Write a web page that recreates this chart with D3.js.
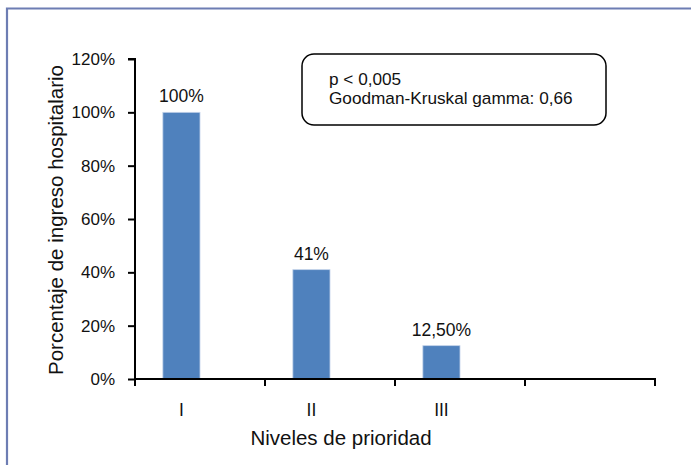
<!DOCTYPE html>
<html>
<head>
<meta charset="utf-8">
<script src="https://cdn.jsdelivr.net/npm/d3@7"></script>
<style>
  html, body { margin: 0; padding: 0; background: #fff; }
  svg { display: block; font-family: "Liberation Sans", Arial, Helvetica, sans-serif; }
</style>
</head>
<body>
<svg id="chart" width="691" height="465"></svg>
<script>
// Priority levels (the last category is left empty, as in the original layout)
const categories = ["I", "II", "III", ""];
// Hospital admission percentage per level
const values = [100, 41, 12.5];
// Text shown above each bar
const valueLabels = ["100%", "41%", "12,50%"];
// Clustered layout: the admission series and an empty companion series
const seriesNames = ["ingreso", "vacia"];
// Y axis ticks
const yTicks = [0, 20, 40, 60, 80, 100, 120];
const statsLines = ["p < 0,005", "Goodman-Kruskal gamma: 0,66"];

const svg = d3.select("#chart");

// Outer frame (top and left edges visible)
svg.append("path")
  .attr("d", "M7,466 L7,8.5 L692,8.5")
  .attr("fill", "none")
  .attr("stroke", "#6d7db3")
  .attr("stroke-width", 2.2);

const plot = { left: 135, right: 655, top: 59, bottom: 379 };

const x = d3.scaleBand()
  .domain(categories)
  .range([plot.left, plot.right])
  .paddingInner(0)
  .paddingOuter(0);

const xs = d3.scaleBand()
  .domain(seriesNames)
  .range([0, x.bandwidth()])
  .paddingInner(0)
  .paddingOuter(0.75);

const y = d3.scaleLinear()
  .domain([0, 120])
  .range([plot.bottom, plot.top]);

// Bars
const barData = values.map((v, i) => ({ cat: categories[i], v, label: valueLabels[i] }));

svg.append("g")
  .selectAll("rect")
  .data(barData)
  .join("rect")
  .attr("x", d => x(d.cat) + xs("ingreso"))
  .attr("y", d => y(d.v))
  .attr("width", xs.bandwidth())
  .attr("height", d => y(0) - y(d.v))
  .attr("fill", "#4f81bd")
  .attr("stroke", "#c3d3ea")
  .attr("stroke-width", 0.8);

// Value labels
svg.append("g")
  .selectAll("text")
  .data(barData)
  .join("text")
  .attr("x", d => x(d.cat) + xs("ingreso") + xs.bandwidth() / 2)
  .attr("y", d => y(d.v) - 10)
  .attr("text-anchor", "middle")
  .attr("font-size", 17.5)
  .attr("fill", "#111")
  .text(d => d.label);

// Y axis
const yAxis = svg.append("g")
  .attr("transform", `translate(${plot.left},0)`)
  .call(d3.axisLeft(y).tickValues(yTicks).tickFormat(d => d + "%").tickSize(7).tickPadding(13));
yAxis.select(".domain").attr("stroke", "#000").attr("stroke-width", 2)
  .attr("d", `M-7,${plot.top}H0V${plot.bottom}`);
yAxis.selectAll(".tick line").attr("stroke", "#000").attr("stroke-width", 2);
yAxis.selectAll(".tick text")
  .attr("font-size", 17)
  .attr("fill", "#111")
  .attr("font-family", "Liberation Sans, Arial, sans-serif");

// X axis: ticks on category boundaries
const boundaries = categories.map(c => x(c)).concat([x(categories[categories.length - 1]) + x.bandwidth()]);
const xAxis = svg.append("g").attr("transform", `translate(0,${plot.bottom})`);
xAxis.append("line")
  .attr("x1", plot.left - 1).attr("x2", plot.right + 1)
  .attr("y1", 0).attr("y2", 0)
  .attr("stroke", "#000").attr("stroke-width", 2);
xAxis.selectAll("line.tk")
  .data(boundaries)
  .join("line")
  .attr("class", "tk")
  .attr("x1", d => d).attr("x2", d => d)
  .attr("y1", 0).attr("y2", 7)
  .attr("stroke", "#000").attr("stroke-width", 2);
xAxis.selectAll("text")
  .data(categories.filter(c => c !== ""))
  .join("text")
  .attr("x", c => x(c) + xs("ingreso") + xs.bandwidth() / 2)
  .attr("y", 37)
  .attr("text-anchor", "middle")
  .attr("font-size", 17.5)
  .attr("fill", "#111")
  .text(c => c);

// Axis titles
svg.append("text")
  .attr("x", (plot.left + plot.right) / 2 - 54)
  .attr("y", 445)
  .attr("text-anchor", "middle")
  .attr("font-size", 20.5)
  .attr("fill", "#111")
  .text("Niveles de prioridad");

svg.append("text")
  .attr("transform", `translate(63,${(plot.top + plot.bottom) / 2 + 1}) rotate(-90)`)
  .attr("text-anchor", "middle")
  .attr("font-size", 20.5)
  .attr("fill", "#111")
  .text("Porcentaje de ingreso hospitalario");

// Statistics box
const box = svg.append("g");
box.append("rect")
  .attr("x", 302).attr("y", 54)
  .attr("width", 304).attr("height", 71)
  .attr("rx", 12).attr("ry", 12)
  .attr("fill", "#fff")
  .attr("stroke", "#000")
  .attr("stroke-width", 1.5);
box.selectAll("text")
  .data(statsLines)
  .join("text")
  .attr("x", 329)
  .attr("y", (d, i) => 85 + i * 19)
  .attr("font-size", 17.2)
  .attr("fill", "#111")
  .text(d => d);
</script>
</body>
</html>
